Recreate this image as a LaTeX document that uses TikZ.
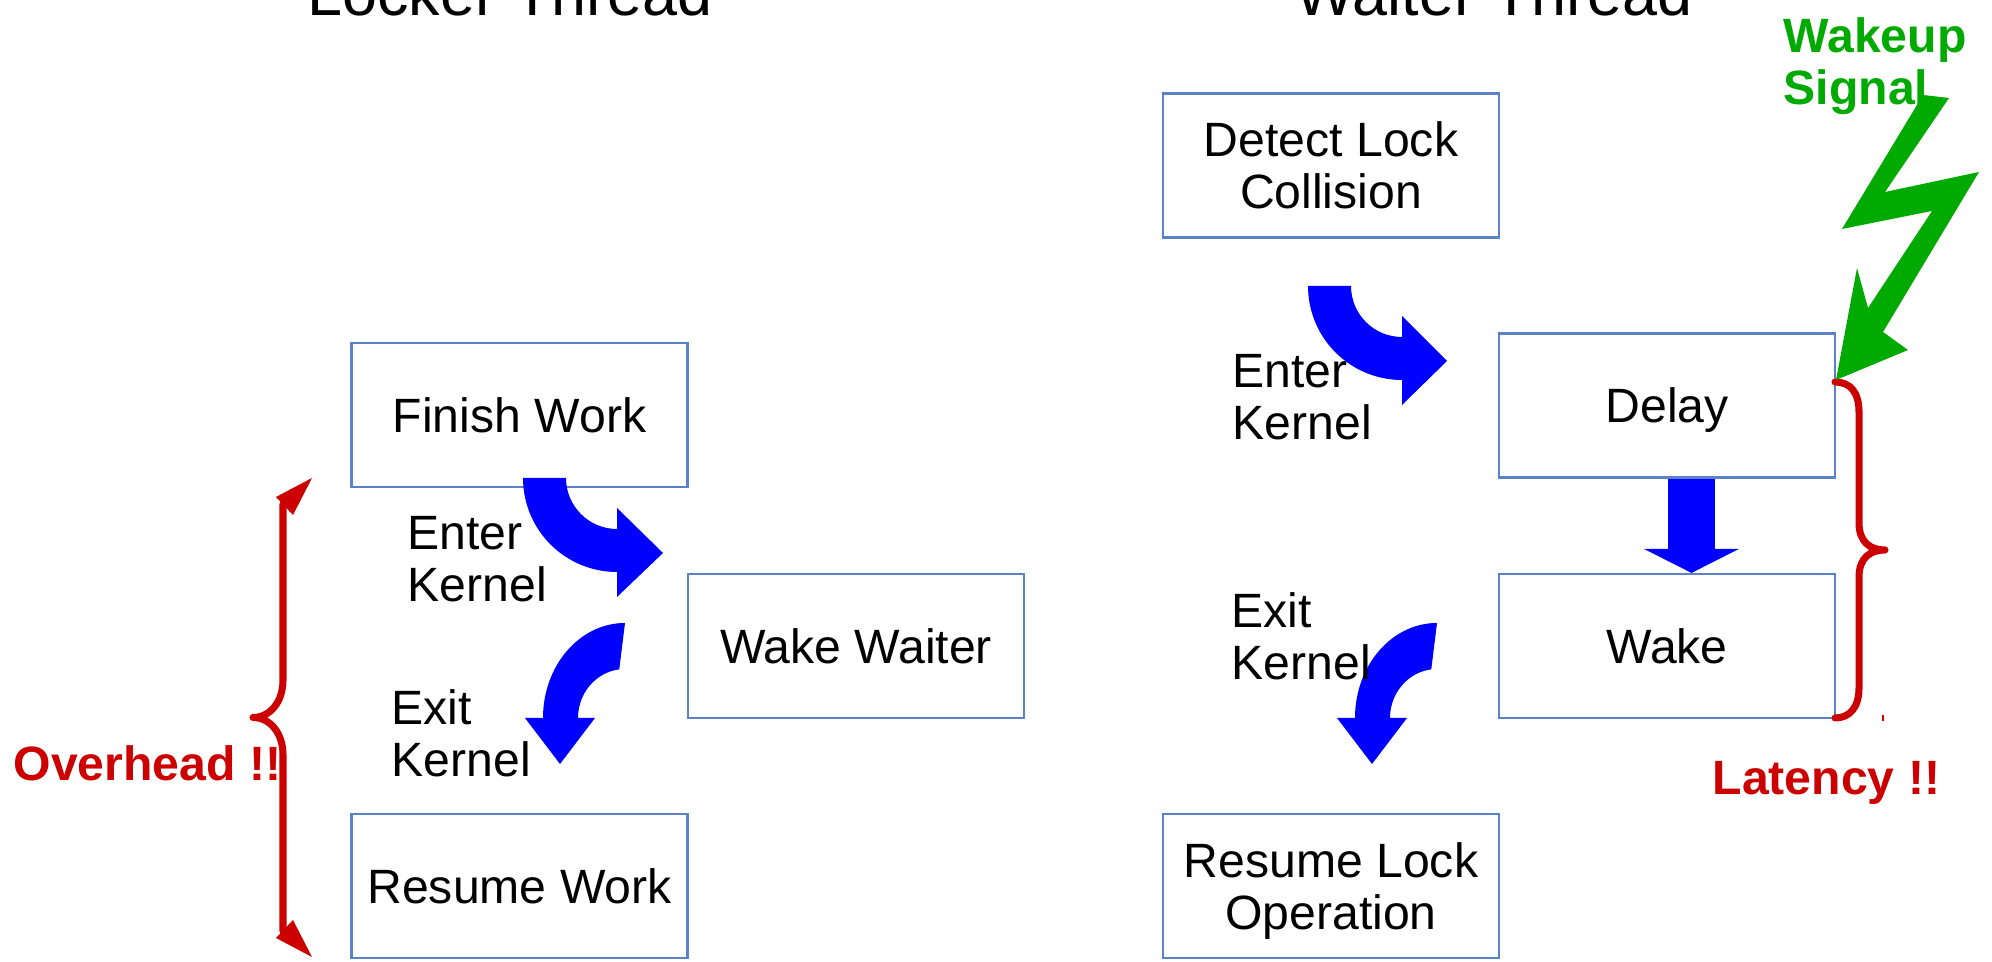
\documentclass[tikz,border=0pt]{standalone}
\usepackage{fontspec}
\setmainfont{Liberation Sans}
\usetikzlibrary{arrows.meta}

\definecolor{boxblue}{RGB}{91,130,200}
\definecolor{kernelblue}{RGB}{0,0,255}
\definecolor{alertred}{RGB}{204,0,0}
\definecolor{signalgreen}{RGB}{0,170,0}

\begin{document}
\begin{tikzpicture}[
    box/.style={draw=boxblue, line width=0.6pt, minimum width=3.36cm, minimum height=1.44cm,
        align=center, inner sep=0pt, text depth=0pt, font=\fontsize{13.7}{14.8}\selectfont},
    lbl/.style={anchor=base west, align=left, inner sep=0pt, font=\fontsize{13.7}{14.8}\selectfont},
    threadtitle/.style={anchor=base, inner sep=0pt, font=\fontsize{17.9}{20}\selectfont},
    alert/.style={anchor=base west, align=left, inner sep=0pt, text=alertred,
        font=\fontsize{13.7}{14.8}\selectfont\bfseries},
    brace/.style={draw=alertred, line width=2pt, line cap=round, line join=round},
    kernel/.style={fill=kernelblue},
    fatarrow/.style={draw=kernelblue, line width=0.47cm, -{Triangle[length=0.24cm,width=0.94cm]}}
]
    \useasboundingbox (0,0) rectangle (19.92,9.62);

    % Thread titles
    \node[threadtitle] (lockertitle) at (5.10,9.46) {Locker Thread};
    \node[threadtitle] (waitertitle) at (14.94,9.46) {Waiter Thread};

    % Locker thread
    \node[box] (finish) at (5.195,5.47) {Finish Work};
    \node[box] (wakewaiter) at (8.56,3.16) {Wake Waiter};
    \node[box] (resumework) at (5.195,0.76) {Resume Work};

    % Waiter thread
    \node[box] (detect) at (13.31,7.965) {Detect Lock\\Collision};
    \node[box] (delay) at (16.67,5.565) {Delay};
    \node[box] (wake) at (16.67,3.16) {Wake};
    \node[box] (resumelock) at (13.31,0.76) {Resume Lock\\Operation};

    % Enter kernel arrows
    \fill[kernel] (5.23,4.84) arc[start angle=180,end angle=270,radius=0.94] -- (6.17,3.65)
        -- (6.63,4.09) -- (6.17,4.54) -- (6.17,4.33) arc[start angle=270,end angle=180,radius=0.51] -- cycle;
    \fill[kernel] (13.08,6.76) arc[start angle=180,end angle=270,radius=0.94] -- (14.02,5.57)
        -- (14.47,6.01) -- (14.02,6.46) -- (14.02,6.25) arc[start angle=270,end angle=180,radius=0.51] -- cycle;

    % Exit kernel arrows
    \fill[kernel] (6.25,3.39) arc[start angle=90,end angle=180,x radius=0.82,y radius=0.95] -- (5.25,2.44)
        -- (5.60,1.98) -- (5.95,2.44) -- (5.78,2.44) arc[start angle=180,end angle=97,x radius=0.47,y radius=0.49] -- cycle;
    \fill[kernel] (14.37,3.39) arc[start angle=90,end angle=180,x radius=0.82,y radius=0.95] -- (13.37,2.44)
        -- (13.72,1.98) -- (14.07,2.44) -- (13.90,2.44) arc[start angle=180,end angle=97,x radius=0.47,y radius=0.49] -- cycle;

    % Delay to wake
    \draw[fatarrow] ([xshift=0.245cm]delay.south) -- ([xshift=0.245cm]wake.north);

    % Kernel labels
    \node[lbl] (enterlocker) at (4.07,3.60) {Enter\\Kernel};
    \node[lbl] (exitlocker) at (3.91,1.85) {Exit\\Kernel};
    \node[lbl] (enterwaiter) at (12.32,5.22) {Enter\\Kernel};
    \node[lbl] (exitwaiter) at (12.31,2.82) {Exit\\Kernel};

    % Overhead brace
    \draw[brace] (2.83,4.58) -- (2.83,2.82) .. controls (2.83,2.60) and (2.70,2.445) .. (2.53,2.445)
        .. controls (2.70,2.445) and (2.83,2.29) .. (2.83,2.07) -- (2.83,0.31);
    \fill[alertred] (3.12,4.84) -- (2.76,4.65) -- (2.93,4.47) -- cycle;
    \fill[alertred] (3.12,0.05) -- (2.76,0.24) -- (2.93,0.42) -- cycle;
    \node[alert] (overhead) at (0.13,1.81) {Overhead !!};

    % Latency brace
    \draw[brace] (18.35,5.80) .. controls (18.50,5.80) and (18.59,5.70) .. (18.59,5.50) -- (18.59,4.39)
        .. controls (18.59,4.20) and (18.70,4.12) .. (18.85,4.12) .. controls (18.70,4.12) and (18.59,4.04) .. (18.59,3.85)
        -- (18.59,2.74) .. controls (18.59,2.55) and (18.50,2.44) .. (18.35,2.44);
    \draw[alertred, line width=0.5pt] (18.83,2.47) -- (18.83,2.41);
    \node[alert] (latency) at (17.12,1.67) {Latency !!};

    % Wakeup signal
    \node[alert, text=signalgreen] (wakeup) at (17.83,8.57) {Wakeup\\Signal};
    \fill[signalgreen] (19.23,8.67) -- (19.49,8.64) -- (18.85,7.70) -- (19.79,7.90) -- (18.83,6.30) -- (19.08,6.12)
        -- (18.36,5.82) -- (18.57,6.94) -- (18.68,6.54) -- (19.32,7.51) -- (18.42,7.33) -- cycle;
\end{tikzpicture}
\end{document}
